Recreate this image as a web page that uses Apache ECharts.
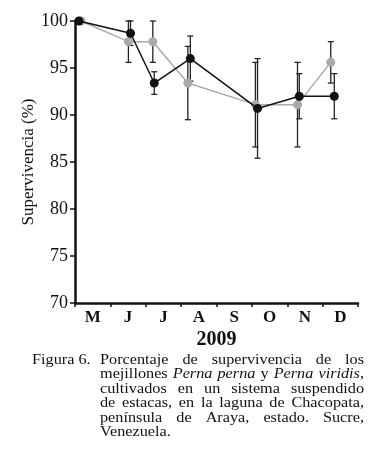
<!DOCTYPE html>
<html>
<head>
<meta charset="utf-8">
<script src="https://cdn.jsdelivr.net/npm/echarts@6/dist/echarts.min.js"></script>
<style>
html,body{margin:0;padding:0;background:#fff;}
#chart{width:390px;height:466px;}
</style>
</head>
<body>
<div id="chart"></div>
<script>
// ---- data ----
const months = ['M', 'J', 'J', 'A', 'S', 'O', 'N', 'D'];
const yearLabel = '2009';
const yTitle = 'Supervivencia (%)';
// sampling positions in months from start of May
const blackX = [0.11, 1.57, 2.24, 3.26, 5.16, 6.34, 7.33];
const blackY = [100, 98.7, 93.4, 96.0, 90.7, 92.0, 92.0];
const blackErr = [0, 1.3, 1.2, 2.4, 5.3, 2.4, 2.4];
const grayX = [0.17, 1.51, 2.20, 3.19, 5.10, 6.29, 7.23];
const grayY = [100, 97.8, 97.8, 93.4, 91.1, 91.1, 95.6];
const grayErr = [0, 2.2, 2.2, 3.9, 4.5, 4.5, 2.2];
const captionLabel = 'Figura 6.';
const captionLines = [
  ['Porcentaje', 'de', 'supervivencia', 'de', 'los'],
  ['mejillones', '*Perna*', '*perna*', 'y', '*Perna*', '*viridis*,'],
  ['cultivados', 'en', 'un', 'sistema', 'suspendido'],
  ['de', 'estacas,', 'en', 'la', 'laguna', 'de', 'Chacopata,'],
  ['península', 'de', 'Araya,', 'estado.', 'Sucre,'],
  ['Venezuela.']
];

const SERIF = "'Liberation Serif', 'DejaVu Serif', serif";
const chart = echarts.init(document.getElementById('chart'), null, {renderer: 'canvas'});

function pts(xs, ys) { return xs.map((x, i) => [x, ys[i]]); }
function errData(xs, ys, es) { return xs.map((x, i) => [x, ys[i], es[i]]); }

function errRender(params, api) {
  const x = api.value(0), y = api.value(1), e = api.value(2);
  if (!e) return null;
  const top = api.coord([x, y + e]);
  const bot = api.coord([x, y - e]);
  const cw = 3;
  const st = {stroke: '#222', lineWidth: 1.3};
  return {
    type: 'group',
    children: [
      {type: 'line', shape: {x1: top[0], y1: top[1], x2: bot[0], y2: bot[1]}, style: st},
      {type: 'line', shape: {x1: top[0] - cw, y1: top[1], x2: top[0] + cw, y2: top[1]}, style: st},
      {type: 'line', shape: {x1: bot[0] - cw, y1: bot[1], x2: bot[0] + cw, y2: bot[1]}, style: st}
    ]
  };
}

// ---- caption (justified) ----
const mctx = document.createElement('canvas').getContext('2d');
const FS = 14.5;
const SX = 1.12; // horizontal stretch of the caption type
function fontOf(it) { return (it ? 'italic ' : '') + FS + 'px ' + SERIF; }
function segs(word) {
  const out = []; const re = /\*([^*]+)\*|([^*]+)/g; let m;
  while ((m = re.exec(word))) out.push(m[1] !== undefined ? {t: m[1], i: true} : {t: m[2], i: false});
  return out;
}
function w(s) { mctx.font = fontOf(s.i); return mctx.measureText(s.t).width * SX; }
const capLeft = 100, capRight = 364, capTop = 360, capLH = 14.5;
const graphics = [];
graphics.push({type: 'text', x: 32, y: capTop, scaleX: SX, style: {text: captionLabel, font: FS + 'px ' + SERIF, fill: '#111', verticalAlign: 'middle'}});
captionLines.forEach((words, li) => {
  const y = capTop + li * capLH;
  const wsegs = words.map(segs);
  const widths = wsegs.map(ss => ss.reduce((a, s) => a + w(s), 0));
  const total = widths.reduce((a, b) => a + b, 0);
  const last = li === captionLines.length - 1;
  mctx.font = fontOf(false);
  const gap = (last || words.length < 2) ? mctx.measureText(' ').width * SX : (capRight - capLeft - total) / (words.length - 1);
  let x = capLeft;
  wsegs.forEach((ss) => {
    ss.forEach(s => {
      graphics.push({type: 'text', x: x, y: y, scaleX: SX, style: {text: s.t, font: fontOf(s.i), fill: '#111', verticalAlign: 'middle'}});
      x += w(s);
    });
    x += gap;
  });
});

const option = {
  animation: false,
  backgroundColor: '#fff',
  grid: {left: 75, right: 32, top: 21, bottom: 163},
  xAxis: [
    {
      type: 'category', data: months, boundaryGap: true,
      name: yearLabel, nameLocation: 'middle', nameGap: 27, nameMoveOverlap: false,
      nameTextStyle: {fontFamily: SERIF, fontSize: 20, fontWeight: 'bold', color: '#111'},
      axisLine: {lineStyle: {color: '#111', width: 2.5}},
      axisTick: {show: true, length: 4, lineStyle: {color: '#111', width: 1.5}},
      axisLabel: {fontFamily: SERIF, fontSize: 17, fontWeight: 'bold', color: '#111', margin: 6},
      splitLine: {show: false}
    },
    {type: 'value', min: 0, max: 8, show: false}
  ],
  yAxis: {
    type: 'value', min: 70, max: 100, interval: 5,
    name: yTitle, nameLocation: 'middle', nameGap: 38, nameRotate: 90, nameMoveOverlap: false,
    nameTextStyle: {fontFamily: SERIF, fontSize: 17, color: '#111'},
    axisLine: {show: true, lineStyle: {color: '#111', width: 2.5}},
    axisTick: {show: true, length: 5, lineStyle: {color: '#111', width: 1.5}},
    axisLabel: {fontFamily: SERIF, fontSize: 18, color: '#111', margin: 7},
    splitLine: {show: false}
  },
  series: [
    {type: 'custom', xAxisIndex: 1, renderItem: errRender, data: errData(grayX, grayY, grayErr), z: 1},
    {type: 'custom', xAxisIndex: 1, renderItem: errRender, data: errData(blackX, blackY, blackErr), z: 1},
    {name: 'black', type: 'line', xAxisIndex: 1, data: pts(blackX, blackY), symbol: 'circle', symbolSize: 9,
      lineStyle: {color: '#111', width: 1.5}, itemStyle: {color: '#111'}, z: 3},
    {name: 'gray', type: 'line', xAxisIndex: 1, data: pts(grayX, grayY), symbol: 'circle', symbolSize: 9,
      lineStyle: {color: '#aaaaaa', width: 1.5}, itemStyle: {color: '#aaaaaa'}, z: 2}
  ],
  graphic: graphics
};
chart.setOption(option);
</script>
</body>
</html>
